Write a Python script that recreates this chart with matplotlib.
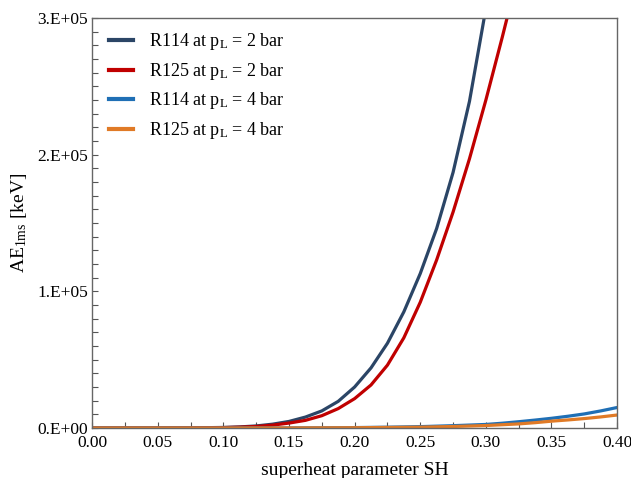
import matplotlib
matplotlib.use("Agg")
import matplotlib.pyplot as plt
from matplotlib.ticker import MultipleLocator, FixedLocator, FixedFormatter

plt.rcParams['font.family'] = ['Liberation Serif', 'DejaVu Serif']
plt.rcParams['mathtext.fontset'] = 'custom'
plt.rcParams['mathtext.rm'] = 'Liberation Serif'
plt.rcParams['mathtext.it'] = 'Liberation Serif:italic'

# ---- data ----
sh_r114_2 = [0.0, 0.025, 0.05, 0.075, 0.10, 0.1125, 0.125, 0.1375, 0.15, 0.1625, 0.175,
             0.1875, 0.20, 0.2125, 0.225, 0.2375, 0.25, 0.2625, 0.275, 0.2875, 0.30]
ae_r114_2 = [0, 0, 10, 80, 400, 800, 1500, 2800, 4800, 8000, 12500,
             19500, 30000, 44000, 62000, 85000, 113000, 146000, 187000, 239000, 307000]

sh_r125_2 = [0.0, 0.025, 0.05, 0.075, 0.10, 0.1125, 0.125, 0.1375, 0.15, 0.1625, 0.175,
             0.1875, 0.20, 0.2125, 0.225, 0.2375, 0.25, 0.2625, 0.275, 0.2875, 0.30,
             0.3125, 0.325]
ae_r125_2 = [0, 0, 5, 50, 300, 600, 1100, 2100, 3600, 5600, 9000,
             14200, 21500, 31500, 46000, 66000, 92000, 123000, 158000, 197000, 240000,
             286000, 334000]

sh_r114_4 = [0.0, 0.05, 0.10, 0.15, 0.20, 0.225, 0.25, 0.275, 0.30, 0.3125, 0.325,
             0.3375, 0.35, 0.3625, 0.375, 0.3875, 0.40]
ae_r114_4 = [0, 0, 5, 50, 300, 600, 1000, 1700, 2600, 3500, 4600,
             5800, 7100, 8600, 10300, 12500, 15000]

sh_r125_4 = [0.0, 0.05, 0.10, 0.15, 0.20, 0.225, 0.25, 0.275, 0.30, 0.3125, 0.325,
             0.3375, 0.35, 0.3625, 0.375, 0.3875, 0.40]
ae_r125_4 = [0, 0, 3, 30, 200, 400, 600, 1100, 1800, 2400, 3000,
             3900, 5000, 5900, 6900, 8100, 9500]

labels = [r"R114 at p$_{\mathrm{L}}$ = 2 bar", r"R125 at p$_{\mathrm{L}}$ = 2 bar",
          r"R114 at p$_{\mathrm{L}}$ = 4 bar", r"R125 at p$_{\mathrm{L}}$ = 4 bar"]
colors = ['#2B4566', '#C00000', '#1F6FB5', '#E07A26']

x_ticks = [0.0, 0.05, 0.10, 0.15, 0.20, 0.25, 0.30, 0.35, 0.40]
x_ticklabels = ['0.00', '0.05', '0.10', '0.15', '0.20', '0.25', '0.30', '0.35', '0.40']
y_ticks = [0, 100000, 200000, 300000]
y_ticklabels = ['0.E+00', '1.E+05', '2.E+05', '3.E+05']

fig = plt.figure(figsize=(6.31, 4.78), dpi=100)
ax = fig.add_axes([0.146, 0.1046, 0.832, 0.8577])

series = [(sh_r114_2, ae_r114_2), (sh_r125_2, ae_r125_2),
          (sh_r114_4, ae_r114_4), (sh_r125_4, ae_r125_4)]
for (xs, ys), lab, col in zip(series, labels, colors):
    ax.plot(xs, ys, color=col, lw=2.3, label=lab, solid_joinstyle='round')

ax.set_xlim(0, 0.4)
ax.set_ylim(0, 300000)
ax.xaxis.set_major_locator(FixedLocator(x_ticks))
ax.xaxis.set_major_formatter(FixedFormatter(x_ticklabels))
ax.xaxis.set_minor_locator(MultipleLocator(0.025))
ax.yaxis.set_major_locator(FixedLocator(y_ticks))
ax.yaxis.set_major_formatter(FixedFormatter(y_ticklabels))
ax.yaxis.set_minor_locator(MultipleLocator(10000))

ax.tick_params(which='both', direction='in', color='#555555', labelsize=12.5,
               top=False, right=False)
ax.tick_params(which='major', length=4, width=0.8)
ax.tick_params(which='minor', length=4, width=0.8)
ax.tick_params(axis='x', pad=5)
ax.tick_params(axis='y', pad=3)
for s in ax.spines.values():
    s.set_color('#666666')
    s.set_linewidth(1.0)

ax.set_xlabel("superheat parameter SH", fontsize=14, labelpad=8)
ax.set_ylabel(r"AE$_{\mathrm{1ms}}$ [keV]", fontsize=14, labelpad=6)

leg = ax.legend(loc='upper left', frameon=False, fontsize=13, handlelength=1.35,
                handletextpad=0.9, labelspacing=0.47, borderaxespad=0.0,
                bbox_to_anchor=(0.018, 0.985))
for l in leg.get_lines():
    l.set_linewidth(3)

fig.savefig("out.png", dpi=100)
